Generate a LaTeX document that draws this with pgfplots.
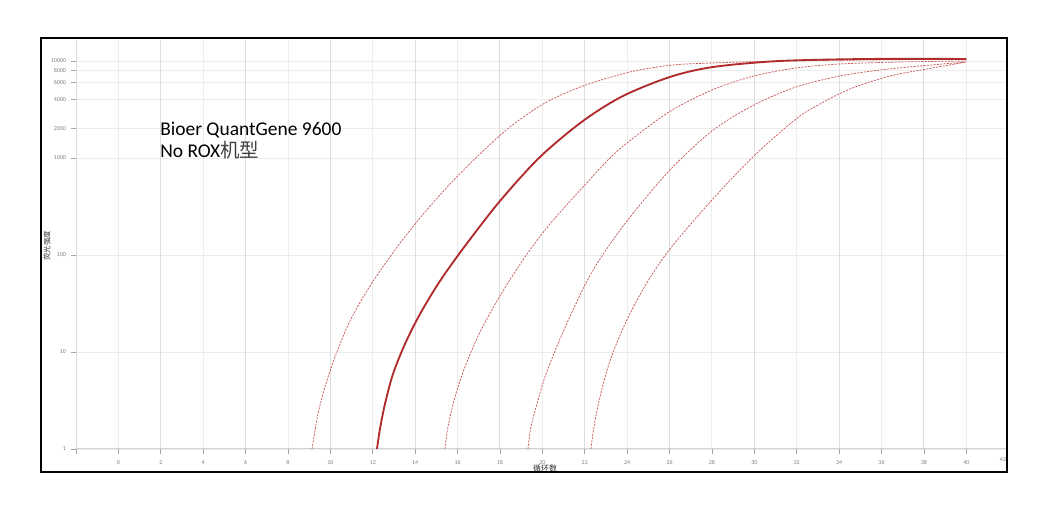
\documentclass[border=0pt]{standalone}
\usepackage{fontspec}
\setmainfont{Carlito}
\newfontfamily\cjk{Noto Sans CJK SC}
\usepackage{pgfplots}
\pgfplotsset{compat=1.18}
\definecolor{rsolid}{RGB}{176,44,44}
\definecolor{rdash}{RGB}{198,88,88}
\definecolor{gridc}{RGB}{236,236,236}
\definecolor{gridd}{RGB}{222,222,222}
\begin{document}
\begin{tikzpicture}[x=0.75pt,y=0.75pt]
\path[use as bounding box] (0,0) rectangle (1049,513);
\begin{axis}[
  at={(57pt,48pt)}, anchor=south west, scale only axis,
  width=698.25pt, height=306.75pt,
  xmin=-2, xmax=41.92, ymode=log, ymin=1, ymax=16467,
  axis line style={draw=none},
  xtick={0,2,...,40},
  extra x ticks={-2,2,6,...,38},
  extra x tick labels={},
  extra x tick style={grid style={gridd, line width=0.7pt}},
  ytick={1,10,100,1000,2000,4000,6000,8000,10000},
  yticklabels={1,10,100,1000,2000,4000,6000,8000,10000},
  /pgf/number format/assume math mode=true,
  tick label style={font=\fontsize{4.5}{5}\selectfont, text=gray},
  tick align=outside, tick pos=left, major tick length=4pt,
  tick style={gray!70, line width=0.5pt},
  xmajorgrids, ymajorgrids,
  grid style={gridc, line width=0.7pt},
  xticklabel style={yshift=-1pt},
]
\draw[gray!35, line width=0.8pt] (rel axis cs:0,0) -- (rel axis cs:1,0);
% curve 1
\addplot[rdash, line width=0.55pt, dash pattern=on 1.6pt off 0.9pt, smooth] coordinates {
(9.132,1)(9.226,1.33)(9.415,2.30)(9.745,4.36)(10.217,8.88)(10.925,20.9)(11.868,47.9)(13.047,112.6)(14.226,240.6)(15.642,539.5)(17.057,1100)(18.472,2088)(20.123,3690)(21.915,5524)(24.132,7701)(26.160,9096)(28.047,9537)(31.208,10000)(35.453,10240)(40,10490)};
% curve 3
\addplot[rdash, line width=0.55pt, dash pattern=on 1.6pt off 0.9pt, smooth] coordinates {
(15.406,1)(15.547,1.686)(15.877,3.437)(16.349,7.005)(17.057,16.08)(18.000,37.79)(19.179,95.4)(20.358,208.7)(21.962,514.4)(23.094,953.7)(23.991,1427)(25.972,2980)(28.000,5023)(29.981,7005)(31.962,8469)(34.038,9314)(36.868,9766)(40,10000)};
% curve 4
\addplot[rdash, line width=0.55pt, dash pattern=on 1.6pt off 0.9pt, smooth] coordinates {
(19.321,1)(19.462,1.686)(19.745,2.911)(20.123,5.525)(20.830,13.61)(21.915,44.62)(22.717,90.9)(23.991,224.1)(25.972,734.5)(28.000,1898)(29.981,3519)(31.962,5395)(34.038,7005)(35.925,8077)(37.811,8882)(40,9766)};
% curve 5
\addplot[rdash, line width=0.55pt, dash pattern=on 1.6pt off 0.9pt, smooth] coordinates {
(22.292,1)(22.434,1.686)(22.717,3.437)(23.189,8.077)(23.896,19.44)(24.840,47.9)(26.019,115.3)(28.000,369.0)(29.981,1049)(31.962,2524)(33.094,3603)(34.509,5144)(36.396,7005)(38.142,8270)(40,9766)};
% curve 2 (solid)
\addplot[rsolid, line width=1.4pt, smooth] coordinates {
(12.198,1)(12.340,1.61)(12.575,2.91)(12.953,5.93)(13.519,12.1)(14.226,24.6)(15.170,53.9)(16.349,123.8)(18.000,360)(19.887,1024)(21.915,2406)(23.802,4357)(26.019,6842)(28.047,8670)(31.208,10000)(35.453,10490)(40,10490)};
\end{axis}
\node[font=\fontsize{4.5}{5}\selectfont, text=gray] at (1003,53) {42};
\node[font=\cjk\fontsize{6}{6}\selectfont, text=black!80] at (545,44.5) {循环数};
\node[font=\cjk\fontsize{5.5}{6}\selectfont, text=black!80, rotate=90] at (47,267) {荧光强度};
\node[anchor=base west, inner sep=0pt, font=\fontsize{14.6}{17.5}\selectfont] at (160,377) {Bioer QuantGene 9600};
\node[anchor=base west, inner sep=0pt, font=\fontsize{14.6}{17.5}\selectfont] at (160,355) {No ROX{\cjk\color{black!75}机型}};
\draw[black, line width=1pt] (41,475) rectangle (1007,41);
\end{tikzpicture}
\end{document}
